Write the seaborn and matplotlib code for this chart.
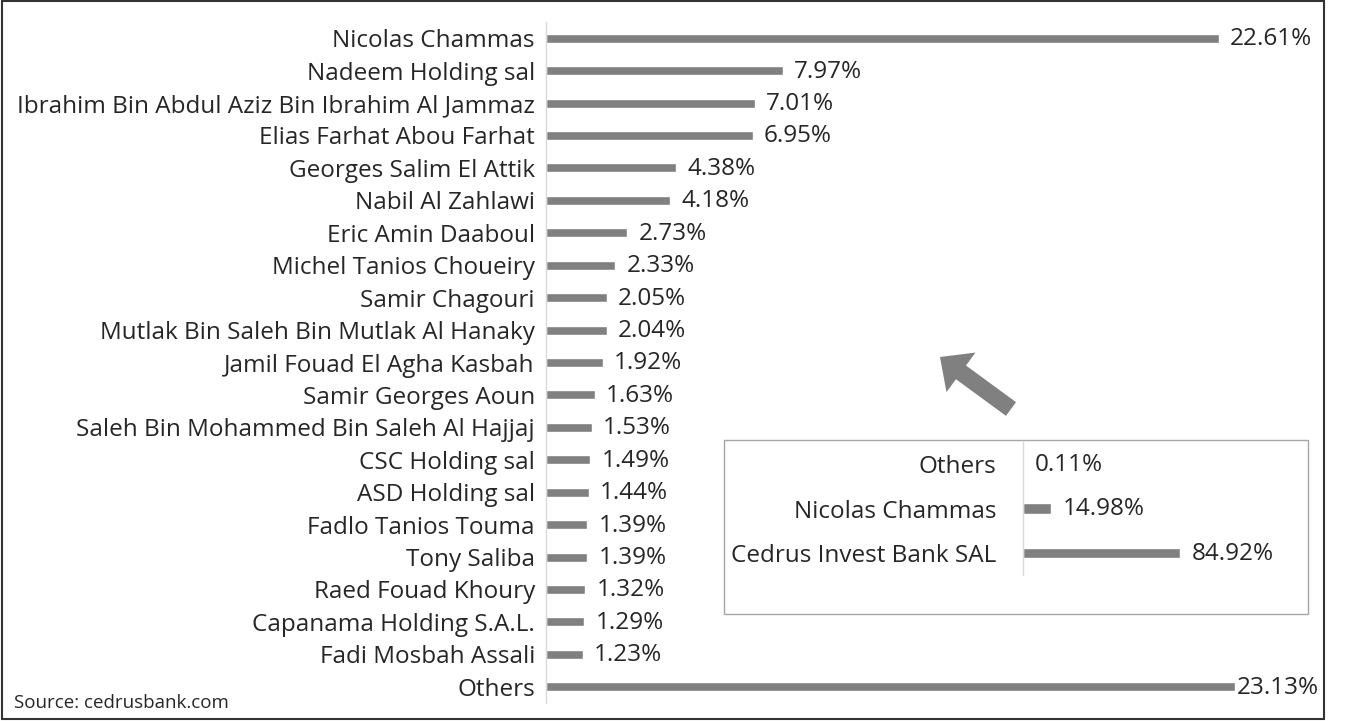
import matplotlib
matplotlib.use("Agg")
import matplotlib.pyplot as plt
import seaborn as sns
import numpy as np
from matplotlib.patches import Rectangle, FancyArrow

# ===================== data =====================
holders = [
    "Nicolas Chammas",
    "Nadeem Holding sal",
    "Ibrahim Bin Abdul Aziz Bin Ibrahim Al Jammaz",
    "Elias Farhat Abou Farhat",
    "Georges Salim El Attik",
    "Nabil Al Zahlawi",
    "Eric Amin Daaboul",
    "Michel Tanios Choueiry",
    "Samir Chagouri",
    "Mutlak Bin Saleh Bin Mutlak Al Hanaky",
    "Jamil Fouad El Agha Kasbah",
    "Samir Georges Aoun",
    "Saleh Bin Mohammed Bin Saleh Al Hajjaj",
    "CSC Holding sal",
    "ASD Holding sal",
    "Fadlo Tanios Touma",
    "Tony Saliba",
    "Raed Fouad Khoury",
    "Capanama Holding S.A.L.",
    "Fadi Mosbah Assali",
    "Others",
]
shares = [22.61, 7.97, 7.01, 6.95, 4.38, 4.18, 2.73, 2.33, 2.05, 2.04,
          1.92, 1.63, 1.53, 1.49, 1.44, 1.39, 1.39, 1.32, 1.29, 1.23, 23.13]

inset_holders = ["Others", "Nicolas Chammas", "Cedrus Invest Bank SAL"]
inset_shares = [0.11, 14.98, 84.92]

source_text = "Source: cedrusbank.com"

# ===================== style =====================
sns.set_style("white")
plt.rcParams["font.family"] = ["Open Sans", "DejaVu Sans"]
BAR = "#808080"
TXT = "#262626"
AXC = "#d9d9d9"
FS = 17.5

W, H = 1353, 721
fig = plt.figure(figsize=(W / 100, H / 100), dpi=100)

# overlay in pixel coords (top-left origin) for frame, box, arrow, source
ov = fig.add_axes([0, 0, 1, 1], zorder=-1)
ov.set_xlim(0, W)
ov.set_ylim(H, 0)
ov.axis("off")


def px_axes(x0, y0, x1, y1):
    return fig.add_axes([x0 / W, 1 - y1 / H, (x1 - x0) / W, (y1 - y0) / H])


def style_axis(ax, n, pad):
    for s in ["top", "right", "bottom"]:
        ax.spines[s].set_visible(False)
    ax.spines["left"].set_color(AXC)
    ax.spines["left"].set_linewidth(1)
    ax.set_xlabel("")
    ax.set_ylabel("")
    ax.set_xticks([])
    ax.tick_params(axis="y", which="major", length=0, labelsize=FS,
                   labelcolor=TXT, pad=pad)
    ax.set_yticks(np.arange(-0.5, n, 1.0), minor=True)
    ax.tick_params(axis="y", which="minor", length=5, color=AXC, width=1)
    ax.patch.set_alpha(0)


# main chart
ax = px_axes(546, 22, 1326, 703)
sns.barplot(x=shares, y=holders, orient="h", color=BAR, width=0.28,
            saturation=1, ax=ax)
ax.set_xlim(0, 780 / 29.77)
style_axis(ax, len(holders), 8)
for i, v in enumerate(shares):
    # the longest bar's label is squeezed against the frame, as in the source
    off = 0.37 if v < 23 else 0.08
    ax.text(v + off, i + 0.03, f"{v:.2f}%", va="center", ha="left",
            fontsize=FS, color=TXT)

# inset box
ov.add_patch(Rectangle((724, 440), 1308 - 724, 614 - 440, fill=False,
                       edgecolor="#a6a6a6", lw=1))

ax2 = px_axes(1023, 442, 1223, 575)
sns.barplot(x=inset_shares, y=inset_holders, orient="h", color=BAR,
            width=0.24, saturation=1, ax=ax2)
ax2.set_xlim(0, 200 / 1.85)
style_axis(ax2, len(inset_holders), 19)
for i, v in enumerate(inset_shares):
    ax2.text(v + 6.5, i + 0.02, f"{v:.2f}%", va="center", ha="left",
             fontsize=FS, color=TXT)

# arrow pointing up-left to the main bars
tail = np.array([1011, 409])
tip = np.array([940, 357])
d = tip - tail
ov.add_patch(FancyArrow(tail[0], tail[1], d[0], d[1], width=17,
                        head_width=49, head_length=26,
                        length_includes_head=True, color=BAR, lw=0))

# source + outer frame
ov.text(14, 703, source_text, fontsize=13.5, color=TXT, va="center",
        ha="left")
ov.add_patch(Rectangle((2, 1), 1322, 718, fill=False, edgecolor="#333333",
                       lw=1.5))

plt.savefig("out.png", dpi=100)
plt.close()
